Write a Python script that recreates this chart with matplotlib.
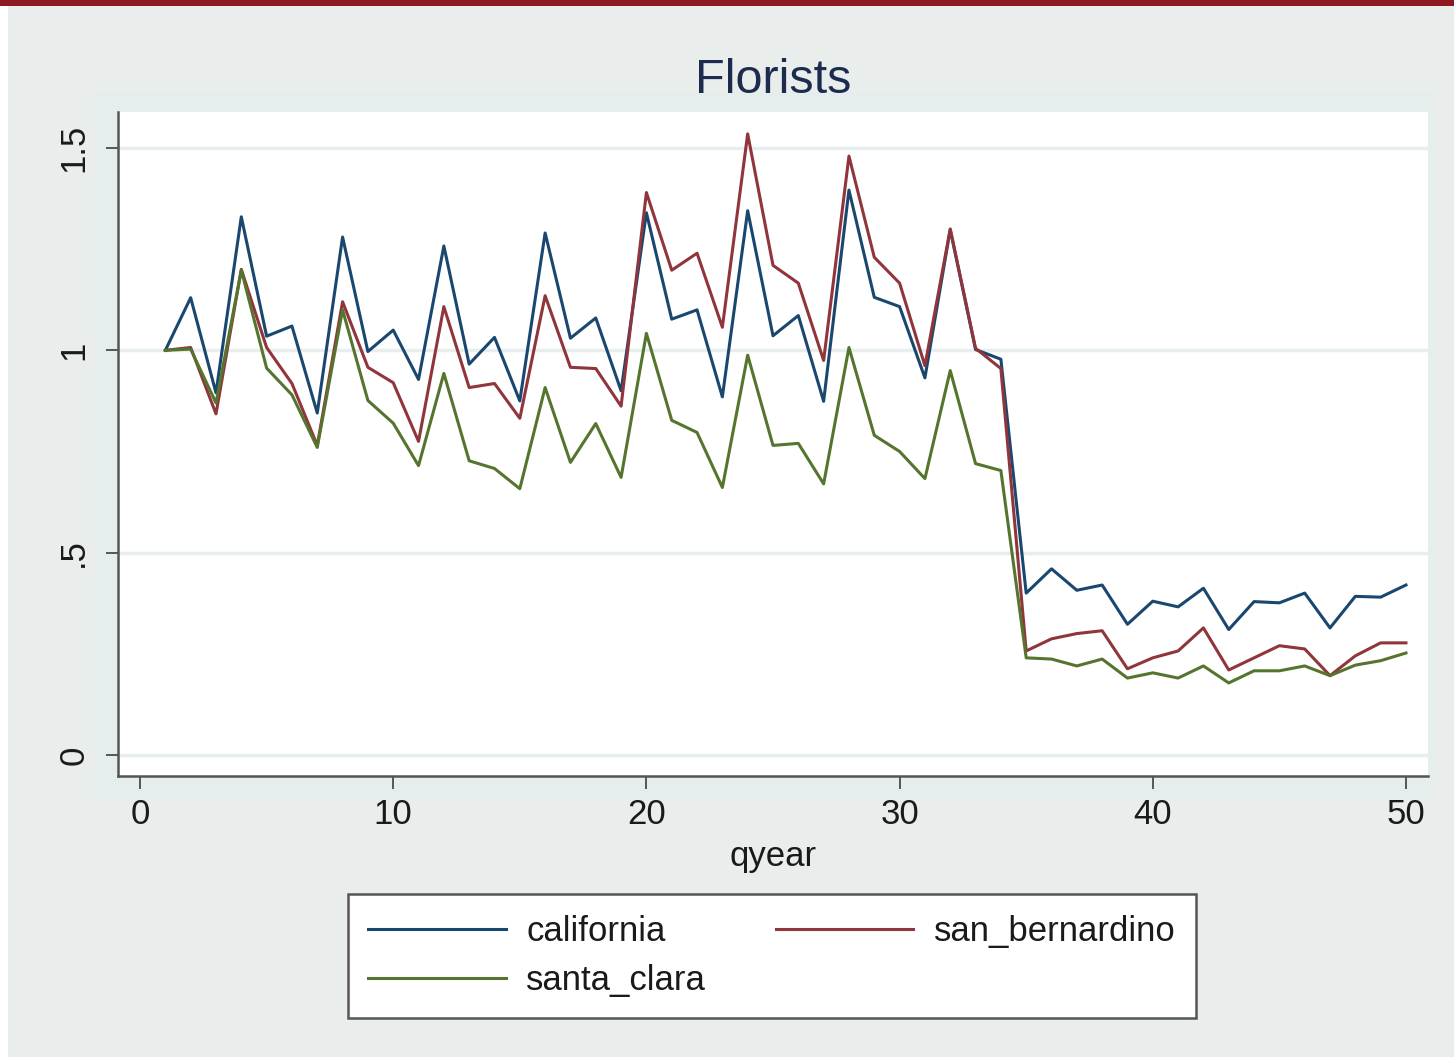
import matplotlib
matplotlib.use("Agg")
import matplotlib.pyplot as plt
from matplotlib.patches import Rectangle

qyear = list(range(1, 51))
california = [1.00, 1.13, 0.895, 1.33, 1.035, 1.06, 0.845, 1.28, 0.997, 1.05,
              0.928, 1.258, 0.966, 1.032, 0.875, 1.29, 1.03, 1.08, 0.90, 1.34,
              1.077, 1.10, 0.885, 1.345, 1.036, 1.086, 0.874, 1.396, 1.131, 1.108,
              0.932, 1.298, 1.002, 0.978, 0.40, 0.46, 0.407, 0.42, 0.323, 0.38,
              0.366, 0.412, 0.31, 0.379, 0.376, 0.40, 0.314, 0.392, 0.39, 0.42]
san_bernardino = [1.00, 1.007, 0.843, 1.20, 1.007, 0.918, 0.765, 1.12, 0.958, 0.92,
                  0.775, 1.108, 0.908, 0.918, 0.832, 1.135, 0.958, 0.955, 0.862, 1.39,
                  1.198, 1.24, 1.057, 1.535, 1.21, 1.166, 0.975, 1.48, 1.23, 1.166,
                  0.962, 1.30, 1.005, 0.955, 0.257, 0.287, 0.30, 0.307, 0.213, 0.24,
                  0.257, 0.314, 0.21, 0.24, 0.27, 0.262, 0.196, 0.245, 0.277, 0.277]
santa_clara = [1.00, 1.003, 0.87, 1.198, 0.956, 0.89, 0.76, 1.10, 0.876, 0.82,
               0.715, 0.943, 0.727, 0.708, 0.658, 0.908, 0.723, 0.819, 0.686, 1.042,
               0.827, 0.797, 0.661, 0.988, 0.765, 0.77, 0.67, 1.007, 0.79, 0.75,
               0.683, 0.95, 0.72, 0.703, 0.24, 0.237, 0.22, 0.237, 0.19, 0.203,
               0.19, 0.22, 0.178, 0.208, 0.208, 0.22, 0.196, 0.222, 0.233, 0.252]

series_names = ["california", "san_bernardino", "santa_clara"]
series_colors = ["#1a476f", "#90353b", "#55752f"]
x_ticks = [0, 10, 20, 30, 40, 50]
y_ticks = [0, 0.5, 1, 1.5]
y_ticklabels = ["0", ".5", "1", "1.5"]

plt.rcParams['font.family'] = ['Liberation Sans', 'DejaVu Sans']

W, H = 1454, 1057
fig = plt.figure(figsize=(W / 100, H / 100), dpi=100)
fig.patch.set_facecolor("#e9eeed")

# frame details: dark red band on top, white strip at left
fig.add_artist(Rectangle((0, 1 - 6 / H), 1, 6 / H, transform=fig.transFigure,
                         facecolor="#8c1820", edgecolor="none", zorder=0))
fig.add_artist(Rectangle((0, 0), 8 / W, 1 - 6 / H, transform=fig.transFigure,
                         facecolor="#ffffff", edgecolor="none", zorder=0))
# outer plot region band
fig.add_artist(Rectangle((95 / W, 1 - 800 / H), (1434 - 95) / W, (800 - 92) / H,
                         transform=fig.transFigure, facecolor="#e5eeec",
                         edgecolor="none", zorder=0))

ax = fig.add_axes([118 / W, 1 - 776 / H, (1428 - 118) / W, (776 - 112) / H])
ax.set_facecolor("white")

ax.set_xlim(-0.87, 50.87)
ax.set_ylim(-0.052, 1.589)

for yt in y_ticks:
    ax.axhline(yt, color="#e8eeee", lw=2.5, zorder=1)

data = [california, san_bernardino, santa_clara]
lines = []
for vals, name, col in zip(data, series_names, series_colors):
    ln, = ax.plot(qyear, vals, color=col, lw=2.2, label=name, zorder=3)
    lines.append(ln)

for s in ["top", "right"]:
    ax.spines[s].set_visible(False)
for s in ["left", "bottom"]:
    ax.spines[s].set_color("#555555")
    ax.spines[s].set_linewidth(1.8)

ax.set_xticks(x_ticks)
ax.set_xticklabels([str(t) for t in x_ticks])
ax.set_yticks(y_ticks)
ax.set_yticklabels(y_ticklabels, rotation=90, va="center")
ax.tick_params(axis="both", length=9, width=1.4, color="#555555",
               labelsize=25, labelcolor="#1a1a1a")
ax.tick_params(axis="x", pad=7)
ax.tick_params(axis="y", pad=11)

ax.set_xlabel("qyear", fontsize=25, color="#1a1a1a", labelpad=6)
ax.set_title("Florists", fontsize=35, color="#1c2b4e", pad=14)

# Stata fills the legend row by row; matplotlib fills column by column
order = [0, 2, 1]
leg = fig.legend(handles=[lines[i] for i in order],
                 labels=[series_names[i] for i in order], ncol=2,
                 loc="center", bbox_to_anchor=(772 / W, 1 - 956 / H),
                 fontsize=25, frameon=True, fancybox=False, framealpha=1,
                 handlelength=3.95, handletextpad=0.6, columnspacing=2.0,
                 labelspacing=0.45, borderpad=0.6, borderaxespad=0)
leg.get_frame().set_edgecolor("#555555")
leg.get_frame().set_linewidth(1.8)
leg.get_frame().set_facecolor("white")
for t in leg.get_texts():
    t.set_color("#1a1a1a")

fig.savefig("out.png", dpi=100, facecolor=fig.get_facecolor())
